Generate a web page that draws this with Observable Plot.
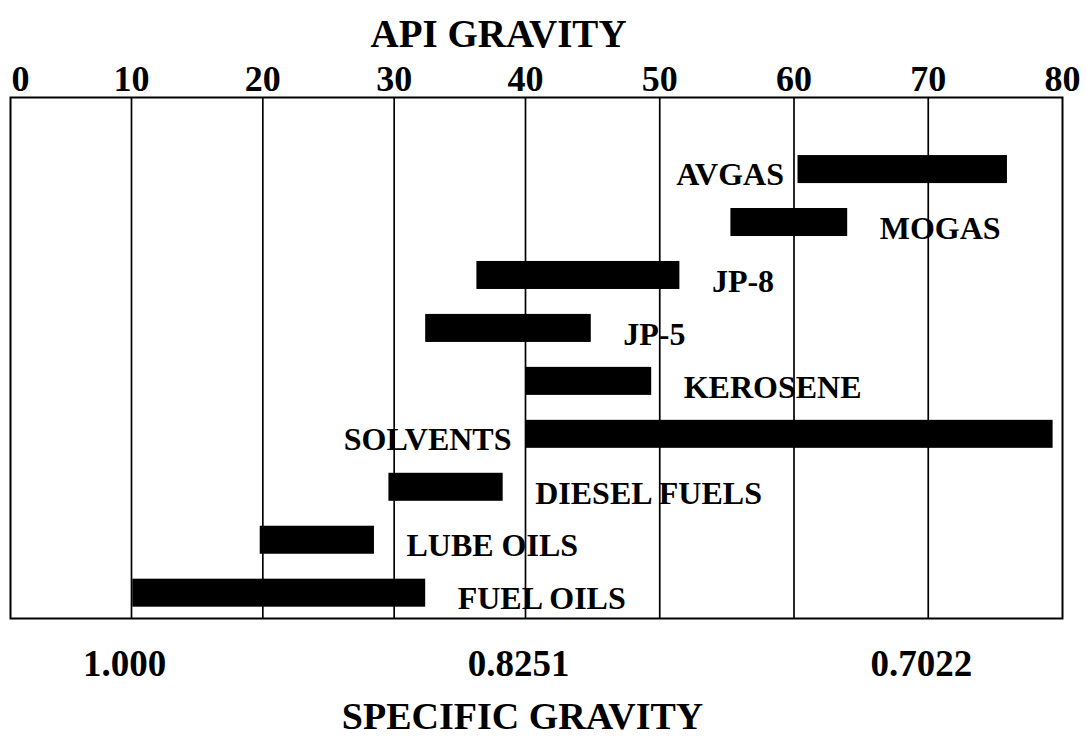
<!DOCTYPE html>
<html>
<head>
<meta charset="utf-8">
<script src="https://cdn.jsdelivr.net/npm/d3@7"></script>
<script src="https://cdn.jsdelivr.net/npm/@observablehq/plot@0.6"></script>
<style>
  html, body { margin: 0; padding: 0; background: #fff; }
  #chart svg { display: block; }
</style>
</head>
<body>
<div id="chart"></div>
<script>
// ---- data ----
const fuels = ["AVGAS", "MOGAS", "JP-8", "JP-5", "KEROSENE", "SOLVENTS", "DIESEL FUELS", "LUBE OILS", "FUEL OILS"];
const apiLow  = [60.3, 55.3, 36.3, 32.4, 40,   40,   29.6, 19.8, 10.1];
const apiHigh = [75.9, 64,   51.5, 44.9, 49.4, 79.3, 38.3, 28.5, 32.4];
const labelSide = ["left", "right", "right", "right", "right", "left", "right", "right", "right"];
const apiTicks = [10, 20, 30, 40, 50, 60, 70, 80];
const apiZero = [0];
const gridLines = [10, 20, 30, 40, 50, 60, 70];
const sgTicks = [10, 40, 70];
const sgLabels = ["1.000", "0.8251", "0.7022"];

const data = fuels.map((f, i) => ({fuel: f, low: apiLow[i], high: apiHigh[i], side: labelSide[i]}));

const font = "'Liberation Serif', 'Times New Roman', serif";

const chart = Plot.plot({
  width: 1086,
  height: 737,
  marginTop: 97,
  marginBottom: 119,
  marginLeft: 10,
  marginRight: 24,
  style: {fontFamily: font, fontWeight: "bold", color: "black", background: "white"},
  x: {type: "linear", domain: [0, 10, 40, 80], range: [10, 131, 525, 1062], label: null},
  y: {type: "band", domain: fuels, paddingInner: 0.471, paddingOuter: 0.655, align: 0.837, round: false, axis: null},
  marks: [
    Plot.ruleX(gridLines, {stroke: "black", strokeWidth: 1.7}),
    Plot.barX(data, {x1: "low", x2: "high", y: "fuel", fill: "black"}),
    Plot.text(data.filter(d => d.side === "right"), {
      x: "high", y: "fuel", text: "fuel", textAnchor: "start", dx: 32, dy: 6,
      fontSize: 32, fontWeight: "bold", fill: "black"
    }),
    Plot.text(data.filter(d => d.side === "left"), {
      x: "low", y: "fuel", text: "fuel", textAnchor: "end", dx: -14, dy: 5,
      fontSize: 32, fontWeight: "bold", fill: "black"
    }),
    Plot.frame({stroke: "black", strokeWidth: 2}),
    Plot.axisX({anchor: "top", ticks: apiTicks, tickSize: 0, tickPadding: 7, fontSize: 36, fontWeight: "bold", label: null}),
    Plot.axisX({anchor: "top", ticks: apiZero, tickSize: 0, tickPadding: 7, dx: 10, fontSize: 36, fontWeight: "bold", label: null}),
    Plot.axisX({anchor: "bottom", ticks: sgTicks, tickFormat: (d) => sgLabels[sgTicks.indexOf(d)], tickSize: 0, tickPadding: 31, dx: -7, fontSize: 37, fontWeight: "bold", label: null}),
    Plot.text(["API GRAVITY"], {frameAnchor: "top", text: d => d, dx: -38, dy: -63, lineAnchor: "middle", fontSize: 39, fontWeight: "bold", fill: "black"}),
    Plot.text(["SPECIFIC GRAVITY"], {frameAnchor: "bottom", text: d => d, dx: -14, dy: 98, lineAnchor: "middle", fontSize: 38, fontWeight: "bold", fill: "black"})
  ]
});
document.getElementById("chart").appendChild(chart);
</script>
</body>
</html>
